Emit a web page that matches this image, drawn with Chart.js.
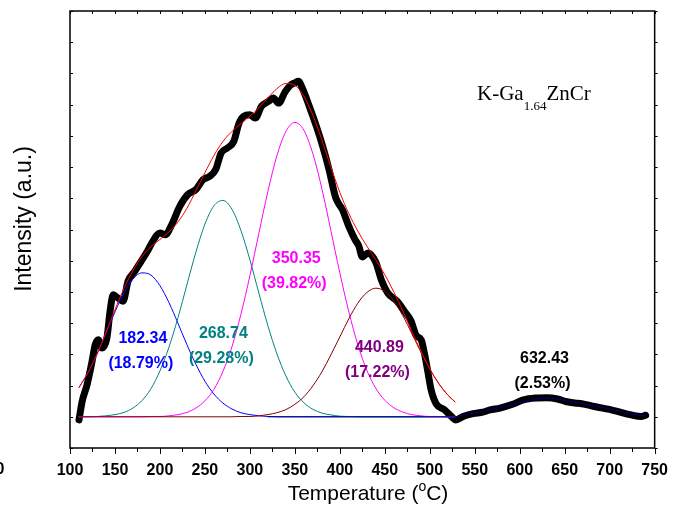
<!DOCTYPE html>
<html>
<head>
<meta charset="utf-8">
<script src="https://cdn.jsdelivr.net/npm/chart.js@4.4.1/dist/chart.umd.min.js"></script>
<style>
  html, body { margin: 0; padding: 0; background: #fff; }
  canvas { display: block; }
</style>
</head>
<body>
<canvas id="tpd" width="681" height="521"></canvas>
<script>
// Measured TPD signal (temperature in degC, intensity in arbitrary units)
const signalTemps = [110,113.5,119,124.5,128,131.5,135.5,141,144.5,148,153.5,159,164.5,172,179,186,191,200,206,213,
  222,231,240,248,255,262,268,275,282,288,293,300,306,313,321,326,332,339,345,350,354,359,366,374,381,388,395.5,403,410,417,
  421,425,431.5,440,446,453.5,464,472,479,485,490.5,494,497.5,501.5,507,516.5,524,529,537,548,559,567,578,592,604,618,630,
  642,651,661,669,683,705,724,735,740];
const signal = [-0.10,0.49,1.03,1.77,2.31,2.47,2.20,2.52,3.37,3.91,3.80,3.70,4.34,4.66,4.98,5.30,5.57,5.89,5.83,6.15,
  6.74,7.12,7.28,7.60,7.70,7.92,8.45,8.61,8.82,9.41,9.63,9.68,9.57,9.95,10.11,10.21,10.05,10.40,10.62,10.70,10.75,10.48,9.95,9.30,8.66,7.92,7.01,6.63,6.10,5.67,
  5.48,5.12,5.25,4.95,4.40,3.96,3.69,3.37,3.08,2.60,2.46,2.04,1.50,0.86,0.42,0.22,0.01,-0.10,0.01,0.10,0.15,0.22,0.28,0.40,0.54,0.60,0.61,
  0.57,0.49,0.44,0.42,0.33,0.20,0.06,0.01,0.05];

// Deconvoluted component curves, sampled on the fit range
const fitTemps = [110,120,130,140,150,160,170,180,190,200,210,220,230,240,250,260,270,280,290,300,
  310,320,330,340,350,360,370,380,390,400,410,420,430,440,450,460,470,480,490,500,510,520,528];
const peak182 = [0.94,1.41,2.00,2.67,3.36,3.97,4.41,4.61,4.54,4.20,3.66,3.00,2.31,1.68,1.14,0.73,0.44,0.25,0.13,0.07,
  0.03,0.01,0,0,0,0,0,0,0,0,0,0,0,0,0,0,0,0,0,0,0,0,0];
const peak269 = [0,0,0.01,0.03,0.07,0.14,0.28,0.52,0.90,1.47,2.23,3.17,4.23,5.28,6.17,6.76,6.93,6.65,5.97,5.03,
  3.96,2.92,2.02,1.31,0.79,0.45,0.24,0.12,0.06,0.02,0.01,0,0,0,0,0,0,0,0,0,0,0,0];
const peak350 = [0,0,0,0,0,0,0,0,0.01,0.01,0.03,0.07,0.14,0.28,0.51,0.88,1.45,2.24,3.28,4.52,
  5.88,7.22,8.36,9.14,9.43,9.18,8.43,7.31,5.97,4.61,3.36,2.31,1.49,0.91,0.53,0.29,0.15,0.07,0.03,0.01,0.01,0,0];
const peak441 = [0,0,0,0,0,0,0,0,0,0,0,0,0,0,0,0,0,0,0.01,0.01,
  0.03,0.07,0.13,0.23,0.40,0.64,0.99,1.44,1.98,2.56,3.14,3.64,3.98,4.12,4.02,3.71,3.24,2.67,2.08,1.53,1.06,0.70,0.48];

// High-temperature component
const highTemps = [320,528,535,550,570,590,610,630,650,670,690,710,730,740];
const peak632 = [0,0,0.04,0.12,0.24,0.38,0.52,0.60,0.53,0.42,0.31,0.19,0.06,0.03];

// Peak annotations
const peakCenters = ['182.34','268.74','350.35','440.89','632.43'];
const peakShares = ['18.79%','29.28%','39.82%','17.22%','2.53%'];
const peakColors = ['#0000FF','#008080','#FF00FF','#800080','#000000'];

// Axis ranges
const xMin = 100, xMax = 750, xStep = 50;
const yMin = -1, yMax = 13;

const pts = (xs, ys) => xs.map((t, i) => ({ x: t, y: ys[i] }));
const envelope = fitTemps.map((t, i) => peak182[i] + peak269[i] + peak350[i] + peak441[i]);

const line = (data, color, width, order) => ({
  data, borderColor: color, borderWidth: width, order,
  pointRadius: 0, fill: false, cubicInterpolationMode: 'monotone',
  borderCapStyle: 'round', borderJoinStyle: 'round'
});

// Label anchors in data coordinates (temperature, intensity)
const labelAnchors = [[181, 2.52], [270.5, 2.68], [351.5, 5.08], [444, 2.21], [627.5, 1.88]];

const decor = {
  id: 'decor',
  afterDraw(chart) {
    const { ctx, chartArea: a, scales: { x, y } } = chart;
    ctx.save();
    // frame
    ctx.strokeStyle = '#000';
    ctx.lineWidth = 1.5;
    ctx.strokeRect(a.left, a.top, a.right - a.left, a.bottom - a.top);
    // ticks
    ctx.lineWidth = 1;
    ctx.beginPath();
    for (let t = xMin; t <= xMax; t += xStep / 2) {
      const px = Math.round(x.getPixelForValue(t)) + 0.5;
      const major = (t - xMin) % xStep === 0;
      ctx.moveTo(px, a.bottom); ctx.lineTo(px, a.bottom + (major ? 6 : 4));
      ctx.moveTo(px, a.top); ctx.lineTo(px, a.top + 3);
    }
    for (let v = yMin; v <= yMax; v++) {
      const py = Math.round(y.getPixelForValue(v)) + 0.5;
      ctx.moveTo(a.left, py); ctx.lineTo(a.left + 3, py);
      ctx.moveTo(a.right, py); ctx.lineTo(a.right + 3, py);
    }
    ctx.stroke();

    // stray label at the left edge
    ctx.fillStyle = '#000';
    ctx.font = 'bold 16px "Liberation Sans", Arial, sans-serif';
    ctx.textAlign = 'center';
    ctx.textBaseline = 'middle';
    ctx.fillText('0', 0, 470);

    // x title with superscript degree
    const big = '21px "Liberation Sans", Arial, sans-serif';
    const small = '14px "Liberation Sans", Arial, sans-serif';
    ctx.textAlign = 'left';
    ctx.textBaseline = 'alphabetic';
    ctx.font = big;
    const p1 = 'Temperature (', p3 = 'C)';
    const w1 = ctx.measureText(p1).width, w3 = ctx.measureText(p3).width;
    ctx.font = small;
    const w2 = ctx.measureText('o').width;
    let tx = 368 - (w1 + w2 + w3) / 2;
    const ty = 500;
    ctx.font = big; ctx.fillText(p1, tx, ty); tx += w1;
    ctx.font = small; ctx.fillText('o', tx, ty - 9); tx += w2;
    ctx.font = big; ctx.fillText(p3, tx, ty);

    // y title
    ctx.save();
    ctx.translate(25, 219);
    ctx.rotate(-Math.PI / 2);
    ctx.font = '23px "Liberation Sans", Arial, sans-serif';
    ctx.textAlign = 'center';
    ctx.textBaseline = 'middle';
    ctx.fillText('Intensity (a.u.)', 0, 0);
    ctx.restore();

    // sample name
    ctx.textAlign = 'left';
    ctx.textBaseline = 'alphabetic';
    const serif = '21px "Liberation Serif", "Times New Roman", serif';
    const serifSub = '13px "Liberation Serif", "Times New Roman", serif';
    let sx = 477;
    ctx.font = serif; ctx.fillText('K-Ga', sx, 100); sx += ctx.measureText('K-Ga').width;
    ctx.font = serifSub; ctx.fillText('1.64', sx, 110); sx += ctx.measureText('1.64').width;
    ctx.font = serif; ctx.fillText('ZnCr', sx, 100);

    // peak labels
    ctx.font = 'bold 16px "Liberation Sans", Arial, sans-serif';
    ctx.textAlign = 'center';
    ctx.textBaseline = 'middle';
    labelAnchors.forEach(([t, v], i) => {
      const px = x.getPixelForValue(t), py = y.getPixelForValue(v);
      ctx.fillStyle = peakColors[i];
      ctx.fillText(peakCenters[i], px, py);
      ctx.fillText('(' + peakShares[i] + ')', px - 2, py + 25);
    });
    ctx.restore();
  }
};

new Chart(document.getElementById('tpd'), {
  type: 'line',
  data: {
    datasets: [
      line(pts(fitTemps, envelope), '#FF0000', 1, 0),
      line(pts(highTemps, peak632), '#000080', 1, 1),
      line(pts(fitTemps, peak441), '#800000', 1, 2),
      line(pts(fitTemps, peak350), '#FF00FF', 1, 3),
      line(pts(fitTemps, peak269), '#008080', 1, 4),
      line(pts(fitTemps, peak182), '#0000FF', 1, 5),
      line(pts(signalTemps, signal), '#000000', 7, 6)
    ]
  },
  options: {
    responsive: false,
    animation: false,
    devicePixelRatio: 1,
    layout: { padding: { top: 11, right: 17, left: 0, bottom: 0 } },
    plugins: { legend: { display: false }, tooltip: { enabled: false } },
    scales: {
      x: {
        type: 'linear', min: xMin, max: xMax,
        grid: { display: false, drawTicks: false },
        border: { display: false },
        ticks: {
          stepSize: xStep, padding: 13, color: '#000',
          font: { family: '"Liberation Sans", Arial, sans-serif', size: 16, weight: 'bold' }
        },
        afterFit: s => { s.height = 73; }
      },
      y: {
        min: yMin, max: yMax,
        grid: { display: false, drawTicks: false },
        border: { display: false },
        ticks: { display: false },
        afterFit: s => { s.width = 70; }
      }
    }
  },
  plugins: [decor]
});
</script>
</body>
</html>
